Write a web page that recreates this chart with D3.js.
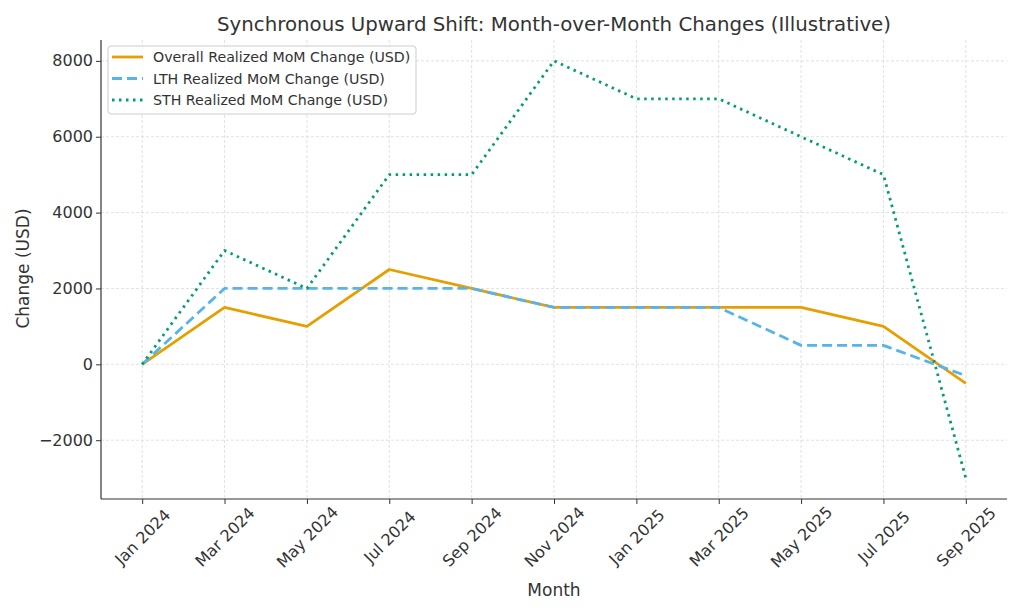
<!DOCTYPE html>
<html><head><meta charset="utf-8">
<script src="https://cdn.jsdelivr.net/npm/d3@7"></script>
<style>body{margin:0;background:#fff}svg{display:block}text{font-family:"DejaVu Sans",sans-serif;fill:#333}</style>
</head><body><svg id="c" width="1024" height="614"></svg>
<script>
const months = ["Jan 2024","Mar 2024","May 2024","Jul 2024","Sep 2024","Nov 2024","Jan 2025","Mar 2025","May 2025","Jul 2025","Sep 2025"];
const overall = [0,1500,1000,2500,2000,1500,1500,1500,1500,1000,-500];
const lth = [0,2000,2000,2000,2000,1500,1500,1500,500,500,-300];
const sth = [0,3000,2000,5000,5000,8000,7000,7000,6000,5000,-3000];
const yTicks = [-2000,0,2000,4000,6000,8000];
const seriesNames = ["Overall Realized MoM Change (USD)","LTH Realized MoM Change (USD)","STH Realized MoM Change (USD)"];

const svg = d3.select("#c");
const L=101, R=1007, T=40, B=499;
const x = d3.scaleLinear().domain([-0.5,10.5]).range([L,R]);
const y = d3.scaleLinear().domain([-3550,8550]).range([B,T]);

// grid
const g = svg.append("g");
g.selectAll(".gx").data(months).enter().append("line")
 .attr("x1",(d,i)=>x(i)).attr("x2",(d,i)=>x(i)).attr("y1",T).attr("y2",B)
 .attr("stroke","#d9d9d9").attr("stroke-width",0.8).attr("stroke-dasharray","3,2");
g.selectAll(".gy").data(yTicks).enter().append("line")
 .attr("x1",L).attr("x2",R).attr("y1",d=>y(d)).attr("y2",d=>y(d))
 .attr("stroke","#d9d9d9").attr("stroke-width",0.8).attr("stroke-dasharray","3,2");

// axes
const xa = svg.append("g").attr("transform",`translate(0,${B})`)
 .call(d3.axisBottom(x).tickValues(d3.range(months.length)).tickFormat(i=>months[i]).tickSize(5).tickSizeOuter(0));
xa.select(".domain").attr("stroke","#333").attr("stroke-width",1.2).attr("d",`M${L},0H${R}`);
xa.selectAll(".tick line").attr("stroke","#333");
xa.selectAll(".tick text").attr("font-size",16).attr("fill","#333")
 .attr("text-anchor","middle").attr("dy",null).attr("y",null)
 .attr("dominant-baseline","central")
 .attr("transform","translate(0,38) rotate(-45)");

const ya = svg.append("g").attr("transform",`translate(${L},0)`)
 .call(d3.axisLeft(y).tickValues(yTicks).tickFormat(d=>d<0?"\u2212"+Math.abs(d):d).tickSize(5).tickSizeOuter(0));
ya.select(".domain").attr("stroke","#333").attr("stroke-width",1.2).attr("d",`M0,${T}V${B}`);
ya.selectAll(".tick line").attr("stroke","#333");
ya.selectAll(".tick text").attr("font-size",16).attr("fill","#333").attr("x",-8);

// lines
const line = arr => d3.line().x((d,i)=>x(i)).y(d=>y(d))(arr);
const styles = [
 {data:overall,color:"#E69F00",dash:null,w:2.8},
 {data:lth,color:"#56B4E9",dash:"10,5",w:2.8},
 {data:sth,color:"#009E73",dash:"2.5,4.5",w:2.8}
];
styles.forEach(s=>{
 svg.append("path").attr("d",line(s.data)).attr("fill","none").attr("stroke",s.color)
  .attr("stroke-width",s.w).attr("stroke-dasharray",s.dash).attr("stroke-linejoin","round");
});

// titles
svg.append("text").attr("x",(L+R)/2).attr("y",31).attr("text-anchor","middle").attr("font-size",19.8).text("Synchronous Upward Shift: Month-over-Month Changes (Illustrative)");
svg.append("text").attr("x",(L+R)/2).attr("y",596).attr("text-anchor","middle").attr("font-size",17).text("Month");
svg.append("text").attr("transform",`translate(29,${(T+B)/2-1}) rotate(-90)`).attr("text-anchor","middle").attr("font-size",17).text("Change (USD)");

// legend
const lg = svg.append("g");
lg.append("rect").attr("x",108).attr("y",46).attr("width",308).attr("height",68).attr("rx",3)
 .attr("fill","rgba(255,255,255,0.8)").attr("stroke","#ccc").attr("stroke-width",1);
styles.forEach((s,i)=>{
 const yy = 57 + i*21.5;
 lg.append("line").attr("x1",112).attr("x2",143).attr("y1",yy).attr("y2",yy)
  .attr("stroke",s.color).attr("stroke-width",s.w).attr("stroke-dasharray",s.dash);
 lg.append("text").attr("x",153).attr("y",yy).attr("dominant-baseline","central").attr("font-size",14.2).text(seriesNames[i]);
});
</script></body></html>
